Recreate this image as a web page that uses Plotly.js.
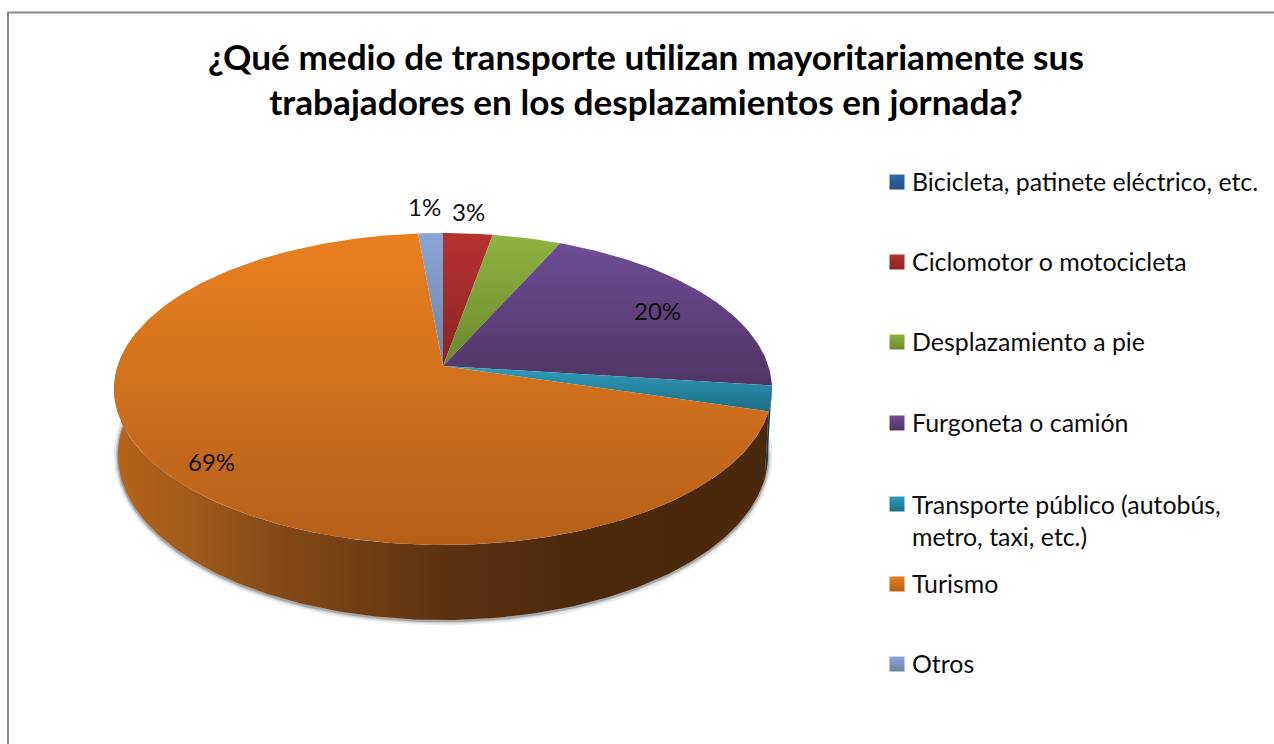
<!DOCTYPE html>
<html><head><meta charset="utf-8">
<script src="https://cdn.plot.ly/plotly-3.0.1.min.js"></script>
<style>html,body{margin:0;padding:0;background:#fff}#c{width:1274px;height:744px}</style>
</head><body><div id="c"></div>
<script>
const chartTitle = "¿Qué medio de transporte utilizan mayoritariamente sus<br>trabajadores en los desplazamientos en jornada?";
const categories = ["Bicicleta, patinete eléctrico, etc.","Ciclomotor o motocicleta","Desplazamiento a pie","Furgoneta o camión","Transporte público (autobús,<br>metro, taxi, etc.)","Turismo","Otros"];
const values = [0, 2.8, 3.9, 20.3, 2.6, 69, 1.4];
const shownLabels = ["", "3%", "", "20%", "", "69%", "1%"];
const labelX = [0, 468, 0, 657, 0, 211, 424];
const labelY = [0, 211, 0, 310, 0, 461, 206];
const colorTop = ["#2F69AC","#B5332F","#8EB440","#6F4C95","#2E9EBC","#E9801F","#8AA6D6"];
const colorBottom = ["#234F80","#8A2523","#6B882E","#4F3565","#1F6C84","#B5601A","#6A83A6"];
const legendY = [182, 262, 342, 423, 504, 584, 664];

// projected disc: rim point for an angle (degrees clockwise from 12 o'clock)
const K = 0.1475, CX = 443;
const TOP = {cy: 366, a: 325.4, b: 152.6};
const BASE = {cy: 430.7, a: 321.5, b: 161.4};
function rim(level, deg) {
  const t = deg * Math.PI / 180, w = 1 + K * Math.cos(t);
  return [CX + level.a * Math.sin(t) / w, level.cy - level.b * Math.cos(t) / w];
}
function arc(level, from, to) {
  const pts = [], n = Math.max(2, Math.ceil(Math.abs(to - from)));
  for (let i = 0; i <= n; i++) pts.push(rim(level, from + (to - from) * i / n));
  return pts;
}
const total = values.reduce((s, v) => s + v, 0);
const spans = []; let acc = 0;
values.forEach(v => { spans.push([acc / total * 360, (acc + v) / total * 360]); acc += v; });

const traces = [];
function poly(pts, extra) {
  traces.push(Object.assign({type:"scatter", mode:"lines", x:pts.map(p=>p[0]), y:pts.map(p=>p[1]),
    fill:"toself", line:{width:0}, hoverinfo:"skip", showlegend:false}, extra));
}
function stroke(pts, color, width) {
  traces.push({type:"scatter", mode:"lines", x:pts.map(p=>p[0]), y:pts.map(p=>p[1]),
    line:{color:color, width:width}, hoverinfo:"skip", showlegend:false});
}
// soft shadow round the base
const shadowArc = arc(BASE, 88, 280).map(p => [p[0], p[1] + 1]);
stroke(shadowArc, "rgba(70,70,70,0.10)", 9);
stroke(shadowArc, "rgba(70,70,70,0.16)", 5);
stroke(shadowArc, "rgba(70,70,70,0.30)", 2.5);

// side walls
poly(arc(TOP, spans[4][0], spans[4][1]).concat(arc(BASE, spans[4][1], spans[4][0])), {fillcolor:"#0F3F50"});
poly(arc(TOP, spans[5][0], 283).concat(arc(BASE, 283, spans[5][0])), {
  fillcolor:"#7a4315",
  fillgradient:{type:"horizontal", colorscale:[[0,"#B5651C"],[0.12,"#A05A1A"],[0.25,"#844A17"],[0.5,"#5E3210"],[0.72,"#4B290C"],[1,"#4A280C"]]}
});
// top faces (plotly's vertical gradient runs bottom to top)
values.forEach((v, i) => {
  if (!v) return;
  const pts = [[CX, TOP.cy]].concat(arc(TOP, spans[i][0], spans[i][1]));
  pts.push([CX, TOP.cy]);
  poly(pts, {fillcolor:colorTop[i], fillgradient:{type:"vertical", colorscale:[[0,colorBottom[i]],[1,colorTop[i]]]}});
});
// legend swatches
traces.push({type:"scatter", mode:"markers", x:categories.map(()=>897), y:legendY, hoverinfo:"skip", showlegend:false,
  marker:{symbol:"square", size:15, color:colorTop, gradient:{type:"vertical", color:colorBottom}, line:{width:0}}});

const FONT = "Lato, 'Open Sans', sans-serif";
const annotations = [];
categories.forEach((c, i) => annotations.push({x:910, y:legendY[i] - 1 + (c.includes("<br>") ? 16.5 : 0), xref:"x", yref:"y", xanchor:"left", yanchor:"middle", align:"left",
  text:c, showarrow:false, font:{family:FONT, size:24.9, color:"#0d0d0d"}}));
shownLabels.forEach((t, i) => { if (t) annotations.push({x:labelX[i], y:labelY[i], xref:"x", yref:"y", xanchor:"center", yanchor:"middle",
  text:t, showarrow:false, font:{family:FONT, size:24, color:"#0d0d0d"}}); });

const layout = {
  width:1274, height:744, margin:{l:0,r:0,t:0,b:0}, paper_bgcolor:"#fff", plot_bgcolor:"#fff", showlegend:false,
  title:{text:chartTitle, x:0.507, xanchor:"center", y:0.9065, yanchor:"top", font:{family:FONT, size:35.2, weight:700, color:"#000"}},
  xaxis:{range:[0,1274], visible:false, fixedrange:true},
  yaxis:{range:[744,0], visible:false, fixedrange:true},
  shapes:[{type:"path", path:"M 8 744 L 8 12.5 L 1274 12.5", line:{color:"#868686", width:2}, xref:"x", yref:"y"}],
  annotations
};
Plotly.newPlot("c", traces, layout, {displayModeBar:false, staticPlot:true});
</script></body></html>
